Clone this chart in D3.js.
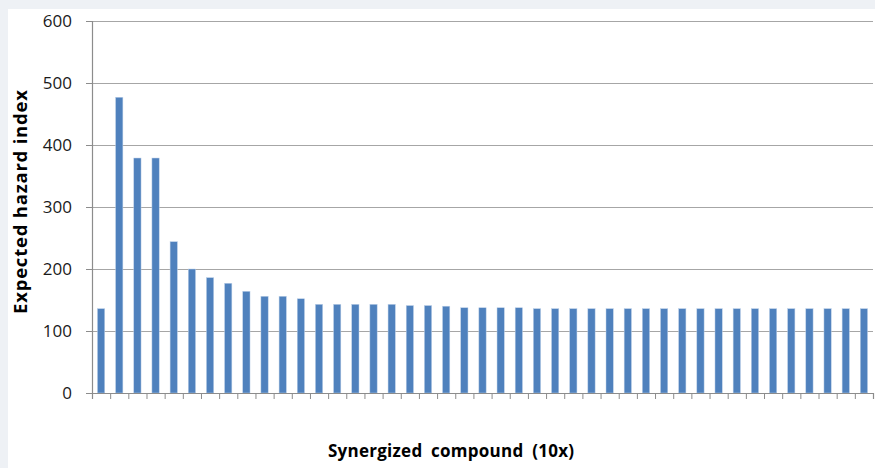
<!DOCTYPE html>
<html>
<head>
<meta charset="utf-8">
<script src="https://cdn.jsdelivr.net/npm/d3@7"></script>
<style>
  html, body { margin: 0; padding: 0; background: #eef1f5; }
  svg { display: block; }
</style>
</head>
<body>
<div id="chart"></div>
<script>
// Data
const compounds = d3.range(1, 44).map((i) => `C${i}`);
const hazardValues = [
  136, 477, 379, 379, 244, 200, 186, 177, 164, 156, 156, 152,
  143, 143, 143, 143, 143, 141, 141, 140,
  137.5, 137.5, 137.5, 137.5,
  136, 136, 136, 136, 136, 136, 136, 136, 136, 136,
  136, 136, 136, 136, 136, 136, 136, 136, 136
];
const yTicks = [0, 100, 200, 300, 400, 500, 600];

const width = 875;
const height = 468;
const margin = { top: 21, right: 2, bottom: 75, left: 92 };

const data = compounds.map((c, i) => ({ name: c, value: hazardValues[i] }));

const svg = d3
  .select("#chart")
  .append("svg")
  .attr("width", width)
  .attr("height", height);

// white chart panel
svg
  .append("rect")
  .attr("x", 8)
  .attr("y", 9)
  .attr("width", width - 8)
  .attr("height", height - 9)
  .attr("fill", "#ffffff");

const x = d3
  .scaleBand()
  .domain(compounds)
  .range([margin.left, width - margin.right])
  .paddingInner(0.6)
  .paddingOuter(0.3);

// boundary positions for the category tick marks
const xBounds = d3
  .scaleLinear()
  .domain([0, compounds.length])
  .range([margin.left, width - margin.right]);

const y = d3
  .scaleLinear()
  .domain([0, 600])
  .range([height - margin.bottom, margin.top]);

// Gridlines
svg
  .append("g")
  .attr("transform", `translate(${margin.left},0)`)
  .call(d3.axisLeft(y).tickValues(yTicks.slice(1)).tickSize(-(width - margin.left - margin.right)).tickFormat(""))
  .call((g) => g.select(".domain").remove())
  .call((g) => g.selectAll("line").attr("stroke", "#a6a6a6").attr("stroke-width", 1.2));

// Bars
svg
  .append("g")
  .selectAll("rect")
  .data(data)
  .join("rect")
  .attr("x", (d) => x(d.name))
  .attr("y", (d) => y(d.value))
  .attr("width", x.bandwidth())
  .attr("height", (d) => y(0) - y(d.value))
  .attr("fill", "#4f81bd")
  .attr("stroke", "#bcd0e8")
  .attr("stroke-width", 0.5);

// X axis (tick marks only, between categories)
svg
  .append("g")
  .attr("transform", `translate(0,${y(0)})`)
  .call(d3.axisBottom(xBounds).tickValues(d3.range(compounds.length + 1)).tickSize(6).tickFormat(""))
  .call((g) => g.select(".domain").attr("stroke", "#8c8c8c").attr("stroke-width", 1.2))
  .call((g) => g.selectAll("line").attr("stroke", "#8c8c8c"));

// Y axis
svg
  .append("g")
  .attr("transform", `translate(${margin.left},0)`)
  .call(d3.axisLeft(y).tickValues(yTicks).tickSize(6).tickPadding(14))
  .call((g) => g.select(".domain").attr("stroke", "#8c8c8c").attr("stroke-width", 1.2))
  .call((g) => g.selectAll("line").attr("stroke", "#8c8c8c"))
  .call((g) =>
    g
      .selectAll("text")
      .attr("fill", "#1a1a1a")
      .attr("font-family", "'Open Sans', sans-serif")
      .attr("font-size", "17px")
  );

// Axis titles
svg
  .append("text")
  .attr("transform", `translate(27,202) rotate(-90)`)
  .attr("text-anchor", "middle")
  .attr("font-family", "'Open Sans', sans-serif")
  .attr("font-weight", "bold")
  .attr("font-size", "18.5px")
  .attr("textLength", 224)
  .attr("lengthAdjust", "spacing")
  .attr("fill", "#000")
  .text("Expected hazard index");

svg
  .append("text")
  .attr("x", 451)
  .attr("y", 457)
  .attr("text-anchor", "middle")
  .attr("font-family", "'Open Sans', sans-serif")
  .attr("font-weight", "bold")
  .attr("font-size", "17px")
  .attr("word-spacing", "4px")
  .attr("textLength", 246)
  .attr("lengthAdjust", "spacing")
  .attr("fill", "#000")
  .text("Synergized compound (10x)");
</script>
</body>
</html>
